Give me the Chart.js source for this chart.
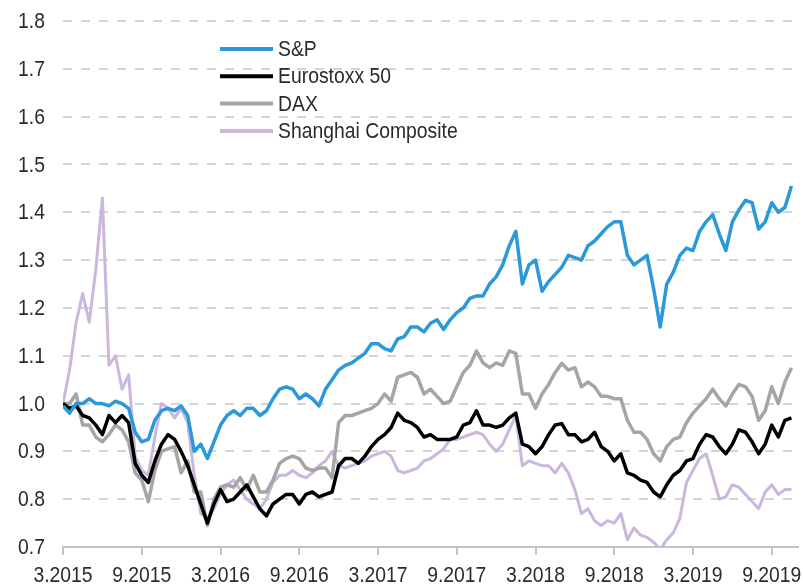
<!DOCTYPE html>
<html>
<head>
<meta charset="utf-8">
<script src="https://cdn.jsdelivr.net/npm/chart.js@4/dist/chart.umd.min.js"></script>
<style>
  html, body { margin: 0; padding: 0; background: #fff; }
  #wrap { width: 803px; height: 586px; }
</style>
</head>
<body>
<div id="wrap"><canvas id="myChart" width="803" height="586"></canvas></div>
<script>
// x = months since March 2015, two readings per month
const months = Array.from({ length: 112 }, (_, i) => i / 2);

const xTickLabels = ['3.2015', '9.2015', '3.2016', '9.2016', '3.2017',
                     '9.2017', '3.2018', '9.2018', '3.2019', '9.2019'];

const seriesNames = ['S&P', 'Eurostoxx 50', 'DAX', 'Shanghai Composite'];

const sp = [
  0.995, 0.98, 1.00, 1.00, 1.01, 1.00, 1.00, 0.995, 1.005, 1.00,
  0.99, 0.94, 0.92, 0.925, 0.965, 0.985, 0.99, 0.985, 0.995, 0.975,
  0.90, 0.915, 0.885, 0.92, 0.955, 0.975, 0.985, 0.975, 0.99, 0.99,
  0.975, 0.985, 1.01, 1.03, 1.035, 1.03, 1.01, 1.02, 1.01, 0.995,
  1.03, 1.05, 1.07, 1.08, 1.085, 1.095, 1.105, 1.125, 1.125, 1.115,
  1.11, 1.135, 1.14, 1.16, 1.16, 1.15, 1.168, 1.175, 1.155, 1.175,
  1.19, 1.20, 1.22, 1.225, 1.225, 1.25, 1.265, 1.29, 1.33, 1.36,
  1.25, 1.29, 1.30, 1.235, 1.255, 1.27, 1.285, 1.31, 1.305, 1.30,
  1.33, 1.34, 1.355, 1.37, 1.38, 1.38, 1.31, 1.29, 1.30, 1.31,
  1.24, 1.16, 1.25, 1.275, 1.31, 1.325, 1.32, 1.36, 1.38, 1.395,
  1.355, 1.32, 1.38, 1.405, 1.425, 1.42, 1.365, 1.38, 1.42, 1.40,
  1.41, 1.455
];

const eurostoxx = [
  1.00, 0.99, 0.995, 0.975, 0.97, 0.955, 0.935, 0.975, 0.96, 0.975,
  0.96, 0.875, 0.85, 0.835, 0.88, 0.915, 0.935, 0.925, 0.90, 0.87,
  0.83, 0.79, 0.75, 0.79, 0.82, 0.795, 0.80, 0.815, 0.83, 0.805,
  0.78, 0.765, 0.79, 0.80, 0.81, 0.81, 0.79, 0.81, 0.815, 0.805,
  0.81, 0.815, 0.87, 0.885, 0.885, 0.875, 0.89, 0.91, 0.925, 0.935,
  0.95, 0.98, 0.965, 0.96, 0.95, 0.93, 0.935, 0.925, 0.925, 0.925,
  0.93, 0.955, 0.96, 0.985, 0.955, 0.955, 0.95, 0.955, 0.97, 0.98,
  0.915, 0.91, 0.895, 0.91, 0.935, 0.955, 0.958, 0.935, 0.935, 0.92,
  0.925, 0.94, 0.91, 0.90, 0.88, 0.895, 0.855, 0.85, 0.84, 0.835,
  0.815, 0.805, 0.83, 0.85, 0.86, 0.88, 0.885, 0.915, 0.935, 0.93,
  0.91, 0.895, 0.915, 0.945, 0.94, 0.92, 0.895, 0.915, 0.955, 0.93,
  0.965, 0.97
];

const dax = [
  1.00, 1.00, 1.02, 0.955, 0.955, 0.93, 0.92, 0.935, 0.955, 0.945,
  0.92, 0.855, 0.84, 0.795, 0.86, 0.90, 0.905, 0.91, 0.855, 0.88,
  0.815, 0.815, 0.745, 0.80, 0.825, 0.83, 0.825, 0.845, 0.82, 0.85,
  0.815, 0.815, 0.84, 0.875, 0.885, 0.89, 0.885, 0.865, 0.86, 0.865,
  0.865, 0.845, 0.96, 0.975, 0.975, 0.98, 0.985, 0.99, 1.00, 1.02,
  1.005, 1.055, 1.06, 1.065, 1.055, 1.02, 1.03, 1.015, 1.00, 1.005,
  1.035, 1.065, 1.08, 1.11, 1.085, 1.075, 1.085, 1.08, 1.11, 1.105,
  1.02, 1.02, 0.99, 1.02, 1.04, 1.065, 1.084, 1.07, 1.075, 1.035,
  1.045, 1.035, 1.015, 1.015, 1.01, 1.01, 0.965, 0.94, 0.94, 0.925,
  0.895, 0.88, 0.91, 0.925, 0.93, 0.96, 0.98, 0.995, 1.01, 1.03,
  1.01, 0.995, 1.02, 1.04, 1.035, 1.015, 0.965, 0.985, 1.035, 1.00,
  1.045, 1.075
];

const shanghai = [
  1.00, 1.07, 1.17, 1.23, 1.17, 1.28, 1.43, 1.08, 1.10, 1.03,
  1.06, 0.89, 0.86, 0.85, 0.93, 1.00, 0.99, 0.97, 0.99, 0.96,
  0.85, 0.77, 0.76, 0.78, 0.81, 0.83, 0.84, 0.82, 0.80, 0.79,
  0.78, 0.80, 0.835, 0.85, 0.85, 0.86, 0.85, 0.845, 0.855, 0.87,
  0.88, 0.90, 0.87, 0.865, 0.87, 0.875, 0.88, 0.89, 0.895, 0.90,
  0.89, 0.86, 0.855, 0.86, 0.865, 0.88, 0.885, 0.895, 0.905, 0.925,
  0.925, 0.93, 0.935, 0.94, 0.935, 0.915, 0.90, 0.915, 0.945, 0.975,
  0.87, 0.88, 0.875, 0.87, 0.87, 0.855, 0.875, 0.855, 0.82, 0.77,
  0.78, 0.755, 0.745, 0.755, 0.75, 0.77, 0.715, 0.74, 0.725, 0.72,
  0.71, 0.695, 0.715, 0.73, 0.76, 0.835, 0.86, 0.885, 0.895, 0.85,
  0.80, 0.805, 0.83, 0.825, 0.81, 0.795, 0.78, 0.815, 0.83, 0.81,
  0.82, 0.82
];

const colors = ['#2A98DB', '#000000', '#A5A5A5', '#CBB6DD'];
const widths = [3.5, 3.5, 3.5, 3];

const FONT = "'Liberation Sans', Arial, sans-serif";
const TEXT_COLOR = '#2b2b2b';
const SQUEEZE = 0.88;   // the original uses a narrow face

function toPoints(values) {
  return values.map((v, i) => ({ x: months[i], y: v }));
}

// draw text horizontally squeezed
function narrowText(ctx, text, x, y, align) {
  ctx.save();
  ctx.translate(x, y);
  ctx.scale(SQUEEZE, 1);
  ctx.textAlign = align;
  ctx.fillText(text, 0, 0);
  ctx.restore();
}

// legend inside the plot plus narrow tick labels
const narrowLabels = {
  id: 'narrowLabels',
  afterDraw(chart) {
    const ctx = chart.ctx;
    ctx.save();
    ctx.font = '22px ' + FONT;
    ctx.textBaseline = 'middle';
    ctx.fillStyle = TEXT_COLOR;

    const ys = chart.scales.y;
    ys.ticks.forEach((t) => {
      narrowText(ctx, t.label, 45, ys.getPixelForValue(t.value) + 1, 'right');
    });
    const xs = chart.scales.x;
    xs.ticks.forEach((t) => {
      if (t.label) narrowText(ctx, t.label, xs.getPixelForValue(t.value), 576, 'center');
    });

    const x0 = 220, y0 = 49, step = 27.3;
    chart.data.datasets.forEach((ds, i) => {
      const y = y0 + i * step;
      ctx.strokeStyle = ds.borderColor;
      ctx.lineWidth = 4;
      ctx.beginPath();
      ctx.moveTo(x0, y);
      ctx.lineTo(x0 + 53, y);
      ctx.stroke();
      ctx.fillStyle = TEXT_COLOR;
      narrowText(ctx, ds.label, x0 + 58, y + 1, 'left');
    });
    ctx.restore();
  }
};

function myLoadFunction() {
  const ctx = document.getElementById('myChart').getContext('2d');
  const allSeries = [sp, eurostoxx, dax, shanghai];
  new Chart(ctx, {
    type: 'line',
    data: {
      datasets: allSeries.map((vals, i) => ({
        label: seriesNames[i],
        data: toPoints(vals),
        borderColor: colors[i],
        backgroundColor: colors[i],
        borderWidth: widths[i],
        pointRadius: 0,
        tension: 0,
        borderJoinStyle: 'round'
      }))
    },
    options: {
      responsive: false,
      animation: false,
      layout: { padding: { top: 21, right: 5, left: 0, bottom: 0 } },
      plugins: { legend: { display: false }, tooltip: { enabled: false } },
      scales: {
        x: {
          type: 'linear',
          min: 0,
          max: 56,
          afterFit(scale) { scale.height = 39; },
          ticks: {
            stepSize: 6,
            includeBounds: false,
            autoSkip: false,
            maxRotation: 0,
            color: 'rgba(0,0,0,0)',
            font: { family: FONT, size: 16 },
            callback: (v) => (v % 6 === 0 ? xTickLabels[v / 6] : null)
          },
          grid: { drawOnChartArea: false, drawTicks: true, tickLength: 8, color: '#c4c4c4', lineWidth: 2 },
          border: { display: true, color: '#c4c4c4', width: 2 }
        },
        y: {
          min: 0.7,
          max: 1.8,
          afterFit(scale) { scale.width = 63; },
          ticks: {
            stepSize: 0.1,
            color: 'rgba(0,0,0,0)',
            font: { family: FONT, size: 16 },
            callback: (v) => Number(v).toFixed(1)
          },
          grid: { color: '#d4d4d4', lineWidth: 2, drawTicks: false },
          border: { display: false, dash: [9, 9] }
        }
      }
    },
    plugins: [narrowLabels]
  });
}
document.addEventListener('DOMContentLoaded', myLoadFunction);
</script>
</body>
</html>
